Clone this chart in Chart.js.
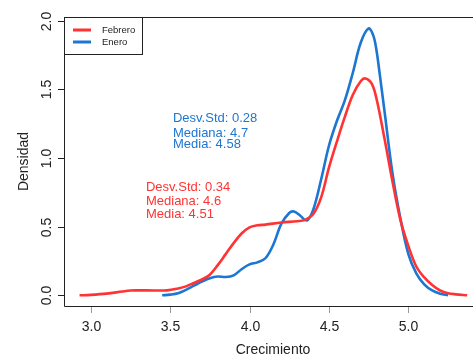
<!DOCTYPE html>
<html>
<head>
<meta charset="utf-8">
<script src="https://cdn.jsdelivr.net/npm/chart.js@4.4.1/dist/chart.umd.min.js"></script>
<style>
  html, body { margin: 0; padding: 0; background: white; }
  #grafico { display: block; }
</style>
</head>
<body>
<canvas id="grafico" width="473" height="356"></canvas>
<script>
// densidad estimada
const xEnero = [3.45, 3.50, 3.55, 3.60, 3.65, 3.70, 3.75, 3.80, 3.85, 3.90, 3.95, 4.00, 4.05, 4.10, 4.15, 4.20, 4.25, 4.28, 4.32, 4.36, 4.40, 4.45, 4.50, 4.55, 4.60, 4.65, 4.70, 4.75, 4.78, 4.80, 4.82, 4.85, 4.90, 4.95, 5.00, 5.05, 5.10, 5.15, 5.20, 5.25];
const yEnero = [0.0, 0.005, 0.015, 0.04, 0.07, 0.10, 0.125, 0.137, 0.133, 0.145, 0.19, 0.225, 0.24, 0.27, 0.37, 0.52, 0.60, 0.61, 0.58, 0.545, 0.62, 0.84, 1.09, 1.27, 1.42, 1.62, 1.84, 1.945, 1.89, 1.78, 1.61, 1.34, 0.89, 0.56, 0.30, 0.16, 0.08, 0.035, 0.012, 0.0];

const xFebrero = [2.93, 3.00, 3.10, 3.20, 3.25, 3.30, 3.40, 3.48, 3.55, 3.60, 3.65, 3.70, 3.75, 3.80, 3.85, 3.90, 3.95, 4.00, 4.05, 4.10, 4.20, 4.30, 4.35, 4.40, 4.45, 4.50, 4.55, 4.60, 4.65, 4.70, 4.73, 4.77, 4.80, 4.85, 4.90, 4.95, 5.00, 5.05, 5.10, 5.15, 5.20, 5.25, 5.30, 5.37];
const yFebrero = [0.0, 0.003, 0.012, 0.028, 0.035, 0.036, 0.035, 0.036, 0.05, 0.065, 0.09, 0.115, 0.15, 0.22, 0.30, 0.38, 0.45, 0.495, 0.51, 0.515, 0.53, 0.54, 0.55, 0.59, 0.71, 0.93, 1.12, 1.30, 1.46, 1.56, 1.58, 1.54, 1.43, 1.14, 0.83, 0.55, 0.36, 0.21, 0.13, 0.075, 0.035, 0.015, 0.007, 0.0];

const series = ["Febrero", "Enero"];
const colores = ["#ff3333", "#1c76d2"];

const ticksX = [3.0, 3.5, 4.0, 4.5, 5.0];
const ticksY = [0.0, 0.5, 1.0, 1.5, 2.0];

// textos de resumen por serie
const textoEnero = ["Desv.Std: 0.28", "Mediana: 4.7", "Media: 4.58"];
const textoFebrero = ["Desv.Std: 0.34", "Mediana: 4.6", "Media: 4.51"];

function puntos(xs, ys) {
  return xs.map((x, i) => ({ x: x, y: ys[i] }));
}

const fuente = '"Liberation Sans", Arial, Helvetica, sans-serif';

// dibuja marco, ejes, leyenda y textos al estilo R
const estiloR = {
  id: "estiloR",
  afterDraw(chart) {
    const ctx = chart.ctx;
    const a = chart.chartArea;
    const sx = chart.scales.x;
    const sy = chart.scales.y;
    ctx.save();
    ctx.strokeStyle = "#222";
    ctx.lineWidth = 1;
    // marco (el borde derecho queda fuera de la imagen)
    ctx.beginPath();
    ctx.moveTo(a.right, a.top + 0.5);
    ctx.lineTo(a.left + 0.5, a.top + 0.5);
    ctx.lineTo(a.left + 0.5, a.bottom + 0.5);
    ctx.lineTo(a.right, a.bottom + 0.5);
    ctx.stroke();

    // eje x
    ctx.fillStyle = "#222";
    ctx.font = "14px " + fuente;
    ctx.textAlign = "center";
    ctx.textBaseline = "alphabetic";
    ctx.strokeStyle = "#999";
    ticksX.forEach(v => {
      const px = Math.round(sx.getPixelForValue(v)) + 0.5;
      ctx.beginPath();
      ctx.moveTo(px, a.bottom + 1);
      ctx.lineTo(px, a.bottom + 7);
      ctx.stroke();
      ctx.fillText(v.toFixed(1), px, a.bottom + 25);
    });
    ctx.fillText("Crecimiento", (a.left + 482) / 2, 354);

    // eje y
    ctx.strokeStyle = "#222";
    ticksY.forEach(v => {
      const py = Math.round(sy.getPixelForValue(v)) + 0.5;
      ctx.beginPath();
      ctx.moveTo(a.left - 6, py);
      ctx.lineTo(a.left, py);
      ctx.stroke();
      ctx.save();
      ctx.translate(a.left - 13, py);
      ctx.rotate(-Math.PI / 2);
      ctx.fillText(v.toFixed(1), 0, 0);
      ctx.restore();
    });
    ctx.save();
    ctx.translate(28, (a.top + a.bottom) / 2);
    ctx.rotate(-Math.PI / 2);
    ctx.fillText("Densidad", 0, 0);
    ctx.restore();

    // leyenda
    ctx.strokeStyle = "#222";
    ctx.strokeRect(a.left + 0.5, a.top + 0.5, 78, 37);
    ctx.font = "9.5px " + fuente;
    ctx.textAlign = "left";
    ctx.textBaseline = "middle";
    series.forEach((s, i) => {
      const yy = a.top + 13 + i * 12;
      ctx.strokeStyle = colores[i];
      ctx.lineWidth = 3;
      ctx.beginPath();
      ctx.moveTo(a.left + 9, yy);
      ctx.lineTo(a.left + 27, yy);
      ctx.stroke();
      ctx.fillStyle = "#222";
      ctx.fillText(s, a.left + 38, yy + 0.5);
    });

    // textos de resumen
    ctx.font = "13px " + fuente;
    ctx.textBaseline = "alphabetic";
    ctx.textAlign = "left";
    ctx.fillStyle = colores[1];
    const bx = sx.getPixelForValue(3.518);
    [1.265, 1.156, 1.071].forEach((v, i) => ctx.fillText(textoEnero[i], bx, sy.getPixelForValue(v)));
    ctx.fillStyle = colores[0];
    const rx = sx.getPixelForValue(3.348);
    [0.763, 0.659, 0.562].forEach((v, i) => ctx.fillText(textoFebrero[i], rx, sy.getPixelForValue(v)));
    ctx.restore();
  }
};

const config = {
  type: "scatter",
  data: {
    datasets: [
      {
        label: series[0],
        data: puntos(xFebrero, yFebrero),
        borderColor: colores[0],
        showLine: true,
        borderWidth: 2.6,
        pointRadius: 0,
        tension: 0.35
      },
      {
        label: series[1],
        data: puntos(xEnero, yEnero),
        borderColor: colores[1],
        showLine: true,
        borderWidth: 2.6,
        pointRadius: 0,
        tension: 0.35
      }
    ]
  },
  options: {
    responsive: false,
    animation: false,
    layout: { padding: { left: 64, top: 17, right: 0, bottom: 50 } },
    plugins: { legend: { display: false }, tooltip: { enabled: false } },
    scales: {
      x: { type: "linear", min: 2.832, max: 5.407, display: false },
      y: { type: "linear", min: -0.078, max: 2.028, display: false }
    }
  },
  plugins: [estiloR]
};

new Chart(document.getElementById("grafico"), config);
</script>
</body>
</html>
